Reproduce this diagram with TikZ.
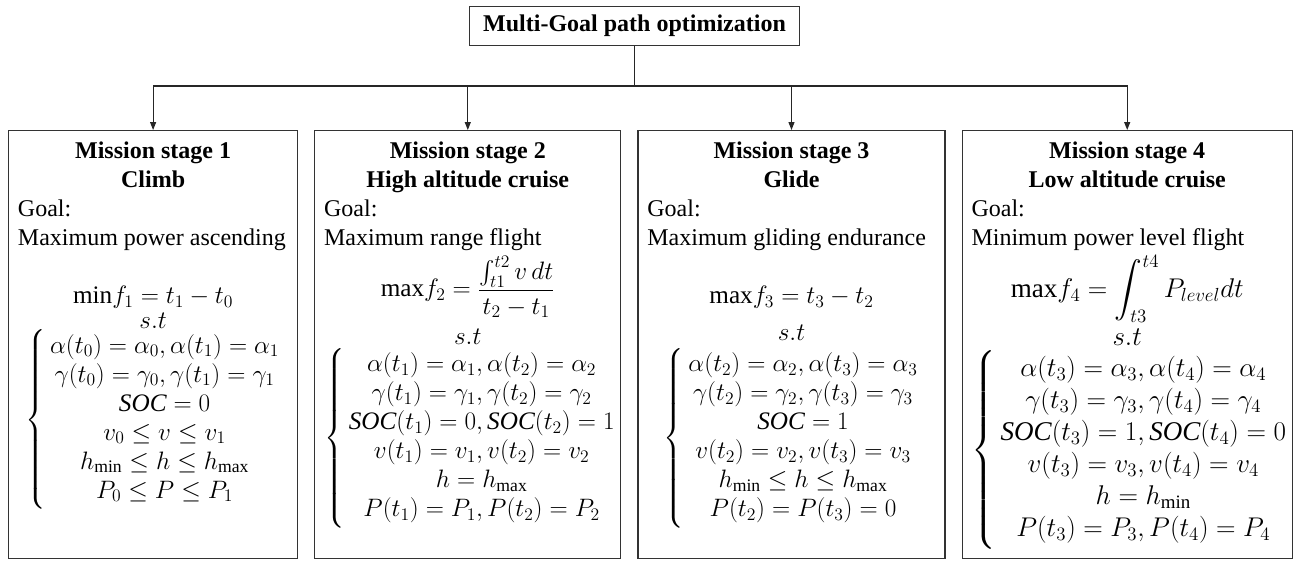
\RequirePackage{fix-cm}
\documentclass[tikz,border=0pt]{standalone}
\usepackage{fontspec}
\setmainfont{Liberation Serif}
\usepackage{amsmath}
\usetikzlibrary{positioning,arrows.meta}

\newcommand{\mathsize}{\fontsize{18.9}{21.75}\selectfont}
\newcommand{\bigmathsize}{\fontsize{20.3}{24}\selectfont}
\newcommand{\soc}{\mathit{SOC}}

\begin{document}
\begin{tikzpicture}[x=0.75pt, y=-0.75pt, node distance=12pt,
  headbox/.style={draw=black!80, line width=0.9pt, minimum width=248pt, minimum height=29pt, inner sep=0pt, font=\fontsize{18}{21.75}\selectfont\bfseries},
  stage/.style={draw=black!80, line width=0.9pt, inner xsep=7pt, inner ysep=5.8pt, anchor=north west, font=\fontsize{18}{21.75}\selectfont},
  link/.style={black!85, line width=0.9pt},
  arrow/.style={link, -{Triangle[length=6pt, width=4.5pt]}}]

  \useasboundingbox (0,0) rectangle (1294,562);

  % Top box
  \node[headbox] (goal) at (634.5,26) {Multi-Goal path optimization};

  % Stage 1
  \node[stage] (st1) at (8,130) {\parbox[t][309.4pt][t]{202.75pt}{%
    \centering\bfseries\strut Mission stage 1\\Climb\par
    \raggedright\mdseries Goal:\\Maximum power ascending\par
    \vspace{21.75pt}\centering\mathsize
    $\mathrm{min}f_1=t_1-t_0$\\[-3pt]
    $s.t$\\
    $\left\{\begin{array}{@{\,}c@{}}
      \alpha(t_0)=\alpha_0,\alpha(t_1)=\alpha_1\\
      \gamma(t_0)=\gamma_0,\gamma(t_1)=\gamma_1\\
      \soc=0\\
      v_0\le v\le v_1\\
      h_{\min}\le h\le h_{\max}\\
      P_0\le P\le P_1
    \end{array}\right.$\par}};

  % Stage 2
  \node[stage, right=12pt of st1] (st2) {\parbox[t][309.4pt][t]{215.5pt}{%
    \centering\bfseries\strut Mission stage 2\\High altitude cruise\par
    \raggedright\mdseries Goal:\\Maximum range flight\par
    \vspace{3pt}\centering\mathsize
    $\mathrm{max}f_2=\dfrac{\int_{t1}^{t2}v\,dt}{t_2-t_1}$\\[7.5pt]
    $s.t$\\[2pt]
    $\left\{\begin{array}{@{\,}c@{}}
      \alpha(t_1)=\alpha_1,\alpha(t_2)=\alpha_2\\
      \gamma(t_1)=\gamma_1,\gamma(t_2)=\gamma_2\\
      \soc(t_1)=0,\soc(t_2)=1\\
      v(t_1)=v_1,v(t_2)=v_2\\
      h=h_{\max}\\
      P(t_1)=P_1,P(t_2)=P_2
    \end{array}\right.$\par}};

  % Stage 3
  \node[stage, right=12pt of st2] (st3) {\parbox[t][309.4pt][t]{216.25pt}{%
    \centering\bfseries\strut Mission stage 3\\Glide\par
    \raggedright\mdseries Goal:\\Maximum gliding endurance\par
    \vspace{21.75pt}\centering\mathsize
    $\mathrm{max}f_3=t_3-t_2$\\[6pt]
    $s.t$\\[5pt]
    $\left\{\begin{array}{@{\,}c@{}}
      \alpha(t_2)=\alpha_2,\alpha(t_3)=\alpha_3\\
      \gamma(t_2)=\gamma_2,\gamma(t_3)=\gamma_3\\
      \soc=1\\
      v(t_2)=v_2,v(t_3)=v_3\\
      h_{\min}\le h\le h_{\max}\\
      P(t_2)=P(t_3)=0
    \end{array}\right.$\par}};

  % Stage 4
  \node[stage, right=12pt of st3] (st4) {\parbox[t][309.4pt][t]{233.5pt}{%
    \centering\bfseries\strut Mission stage 4\\Low altitude cruise\par
    \raggedright\mdseries Goal:\\Minimum power level flight\par
    \vspace{2pt}\centering\bigmathsize
    $\displaystyle\mathrm{max}f_4=\int_{t3}^{t4}P_{level}dt$\\[4pt]
    $s.t$\\[3pt]
    $\left\{\begin{array}{@{\,}c@{}}
      \alpha(t_3)=\alpha_3,\alpha(t_4)=\alpha_4\\
      \gamma(t_3)=\gamma_3,\gamma(t_4)=\gamma_4\\
      \soc(t_3)=1,\soc(t_4)=0\\
      v(t_3)=v_3,v(t_4)=v_4\\
      h=h_{\min}\\
      P(t_3)=P_3,P(t_4)=P_4
    \end{array}\right.$\par}};

  % Connectors
  \coordinate (fork) at (634.5,86);
  \draw[link] (goal.south) -- (fork);
  \foreach \s in {st1,st2,st3,st4}
    \draw[arrow] (fork) -| (\s.north);

\end{tikzpicture}
\end{document}
